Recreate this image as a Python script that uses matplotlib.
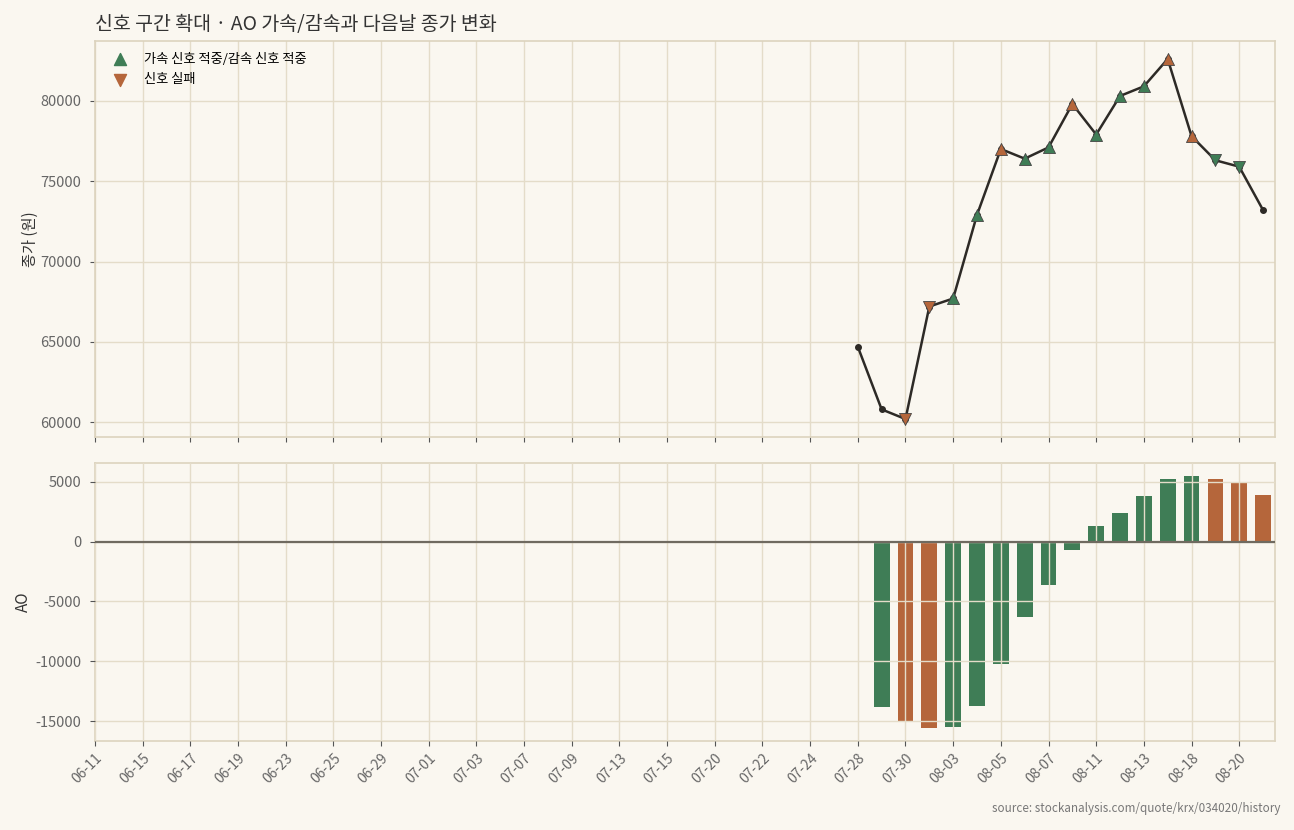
import numpy as np
import matplotlib.pyplot as plt

plt.rcParams['font.family'] = ['Noto Sans CJK KR', 'DejaVu Sans']
plt.rcParams['axes.unicode_minus'] = False

# trading days shown on the axis (every other one is labelled)
dates = ["06-11", "06-12", "06-15", "06-16", "06-17", "06-18", "06-19", "06-22",
         "06-23", "06-24", "06-25", "06-26", "06-29", "06-30", "07-01", "07-02",
         "07-03", "07-06", "07-07", "07-08", "07-09", "07-10", "07-13", "07-14",
         "07-15", "07-16", "07-20", "07-21", "07-22", "07-23", "07-24", "07-27",
         "07-28", "07-29", "07-30", "07-31", "08-03", "08-04", "08-05", "08-06",
         "08-07", "08-10", "08-11", "08-12", "08-13", "08-14", "08-18", "08-19",
         "08-20", "08-21"]

# closing price, only from 07-28 onward
close_dates = ["07-28", "07-29", "07-30", "07-31", "08-03", "08-04", "08-05", "08-06",
               "08-07", "08-10", "08-11", "08-12", "08-13", "08-14", "08-18", "08-19",
               "08-20", "08-21"]
close = [64700, 60800, 60200, 67200, 67700, 72900, 77000, 76400,
         77100, 79800, 77900, 80300, 80900, 82600, 77800, 76300,
         75900, 73200]

# signal markers: direction (up = accel, down = decel) and result
sig_dates = ["07-30", "07-31", "08-03", "08-04", "08-05", "08-06", "08-07", "08-10",
             "08-11", "08-12", "08-13", "08-14", "08-18", "08-19", "08-20"]
sig_dir = ["down", "down", "up", "up", "up", "up", "up", "up",
           "up", "up", "up", "up", "up", "down", "down"]
sig_hit = [False, False, True, True, False, True, True, False,
           True, True, True, False, False, True, True]

# AO histogram
ao_dates = ["07-29", "07-30", "07-31", "08-03", "08-04", "08-05", "08-06", "08-07",
            "08-10", "08-11", "08-12", "08-13", "08-14", "08-18", "08-19", "08-20",
            "08-21"]
ao = [-13800, -15000, -15600, -15500, -13700, -10200, -6300, -3600,
      -700, 1300, 2400, 3800, 5200, 5500, 5200, 4900, 3900]
ao_up = [True, False, False, True, True, True, True, True,
         True, True, True, True, True, True, False, False, False]

GREEN = "#3f7d56"
ORANGE = "#b5663b"
BG = "#faf7f0"
GRID = "#e4dcc9"
SPINE = "#dcd3be"

pos = {d: i for i, d in enumerate(dates)}

fig = plt.figure(figsize=(12.94, 8.30), dpi=100, facecolor=BG)
gs = fig.add_gridspec(2, 1, height_ratios=[396, 278], hspace=0.077,
                      left=0.0734, right=0.9853, top=0.9506, bottom=0.1072)
ax1 = fig.add_subplot(gs[0])
ax2 = fig.add_subplot(gs[1], sharex=ax1)

for ax in (ax1, ax2):
    ax.set_facecolor(BG)
    ax.grid(True, color=GRID, linewidth=1.0)
    for s in ax.spines.values():
        s.set_color(SPINE)
        s.set_linewidth(1.2)
    ax.tick_params(colors="#555555", labelsize=10, labelcolor="#666666")
    ax.tick_params(axis="y", pad=6.5, labelsize=10.5)
ax1.set_axisbelow(True)
ax2.set_axisbelow(False)

# price line
xc = [pos[d] for d in close_dates]
ax1.plot(xc, close, color="#2d2a26", linewidth=1.8, marker="o", markersize=4, zorder=3)

for d, dr, hit in zip(sig_dates, sig_dir, sig_hit):
    x = pos[d]
    y = close[close_dates.index(d)]
    ax1.scatter(x, y, marker="^" if dr == "up" else "v", s=75,
                color=GREEN if hit else ORANGE, edgecolor="#444444",
                linewidth=0.6, zorder=4)

ax1.scatter([], [], marker="^", s=75, color=GREEN, label="가속 신호 적중/감속 신호 적중")
ax1.scatter([], [], marker="v", s=75, color=ORANGE, label="신호 실패")
ax1.legend(loc="upper left", frameon=False, fontsize=9.5, handletextpad=0.8,
           borderaxespad=0.5, labelspacing=0.55)
ax1.set_ylabel("종가 (원)", fontsize=11, color="#333333", labelpad=1)
ax1.set_title("신호 구간 확대 · AO 가속/감속과 다음날 종가 변화", loc="left",
              fontsize=14, color="#333333", pad=8)
ax1.tick_params(axis="x", labelbottom=False)

# AO bars
xa = [pos[d] for d in ao_dates]
ax2.bar(xa, ao, width=0.66, color=[GREEN if u else ORANGE for u in ao_up], zorder=2)
ax2.axhline(0, color="#6f6a60", linewidth=1.6, zorder=3)
ax2.set_ylabel("AO", fontsize=11, color="#333333", labelpad=2)

ticks = list(range(0, len(dates), 2))
ax2.set_xticks(ticks)
ax2.set_xticklabels([dates[i] for i in ticks], rotation=45, ha="right",
                    rotation_mode="anchor")
ax2.set_xlim(0, len(dates) - 0.5)

fig.text(0.9895, 0.018, "source: stockanalysis.com/quote/krx/034020/history",
         ha="right", va="bottom", fontsize=8.4, color="#777777")

fig.savefig("out.png", dpi=100, facecolor=BG)
